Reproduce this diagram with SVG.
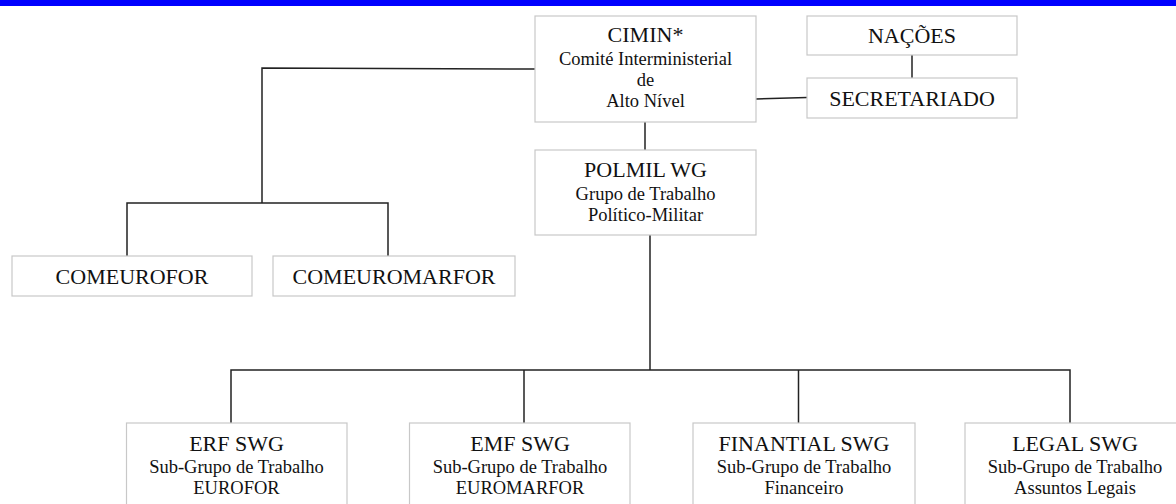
<svg xmlns="http://www.w3.org/2000/svg" width="1176" height="504" viewBox="0 0 1176 504">
<style>
.box{fill:#fff;stroke:#c8c8c8;stroke-width:1.2}
.t{font-family:"Liberation Serif","Times New Roman",serif;font-size:22px;fill:#111;text-anchor:middle}
.s{font-family:"Liberation Serif","Times New Roman",serif;font-size:18.5px;fill:#111;text-anchor:middle}
.c{fill:none;stroke:#222;stroke-width:1.5}
</style>
<rect x="0" y="0" width="1176" height="504" fill="#fff"/>
<rect x="0" y="0" width="1176" height="6" fill="#0000ff"/>
<g id="connectors">
<path class="c" d="M535 69 L262 68 L262 203"/>
<path class="c" d="M127 256 L127 203 L388 203 L388 256"/>
<path class="c" d="M756 99 L807 97.5"/>
<path class="c" d="M912 55 L912 78"/>
<path class="c" d="M645 122 L645 150"/>
<path class="c" d="M650 235 L650 370"/>
<path class="c" d="M231 423 L231 370 L1070 370 L1070 423"/>
<path class="c" d="M524 370 L524 423"/>
<path class="c" d="M798.5 370 L798.5 423"/>
</g>
<g id="cimin">
<rect class="box" x="535" y="16" width="221" height="106"/>
<text class="t" x="645.5" y="42">CIMIN*</text>
<text class="s" x="645.5" y="65">Comité Interministerial</text>
<text class="s" x="645.5" y="86">de</text>
<text class="s" x="645.5" y="107">Alto Nível</text>
</g>
<g id="nacoes">
<rect class="box" x="807" y="16" width="210" height="39"/>
<text class="t" x="912" y="43">NAÇÕES</text>
</g>
<g id="secretariado">
<rect class="box" x="807" y="78" width="210" height="40"/>
<text class="t" x="912" y="106">SECRETARIADO</text>
</g>
<g id="polmil">
<rect class="box" x="535" y="150" width="221" height="85"/>
<text class="t" x="645.5" y="177">POLMIL WG</text>
<text class="s" x="645.5" y="200">Grupo de Trabalho</text>
<text class="s" x="645.5" y="221">Político-Militar</text>
</g>
<g id="comeurofor">
<rect class="box" x="12" y="256" width="240" height="40"/>
<text class="t" x="132" y="284">COMEUROFOR</text>
</g>
<g id="comeuromarfor">
<rect class="box" x="273" y="256" width="242" height="40"/>
<text class="t" x="394" y="284">COMEUROMARFOR</text>
</g>
<g id="erf">
<rect class="box" x="126.5" y="423" width="220.5" height="95"/>
<text class="t" x="236.5" y="451">ERF SWG</text>
<text class="s" x="236.5" y="473">Sub-Grupo de Trabalho</text>
<text class="s" x="236.5" y="494">EUROFOR</text>
</g>
<g id="emf">
<rect class="box" x="409.5" y="423" width="220.5" height="95"/>
<text class="t" x="520" y="451">EMF SWG</text>
<text class="s" x="520" y="473">Sub-Grupo de Trabalho</text>
<text class="s" x="520" y="494">EUROMARFOR</text>
</g>
<g id="finantial">
<rect class="box" x="693" y="423" width="222" height="95"/>
<text class="t" x="804" y="451">FINANTIAL SWG</text>
<text class="s" x="804" y="473">Sub-Grupo de Trabalho</text>
<text class="s" x="804" y="494">Financeiro</text>
</g>
<g id="legal">
<rect class="box" x="965" y="423" width="220" height="95"/>
<text class="t" x="1075" y="451">LEGAL SWG</text>
<text class="s" x="1075" y="473">Sub-Grupo de Trabalho</text>
<text class="s" x="1075" y="494">Assuntos Legais</text>
</g>
</svg>
